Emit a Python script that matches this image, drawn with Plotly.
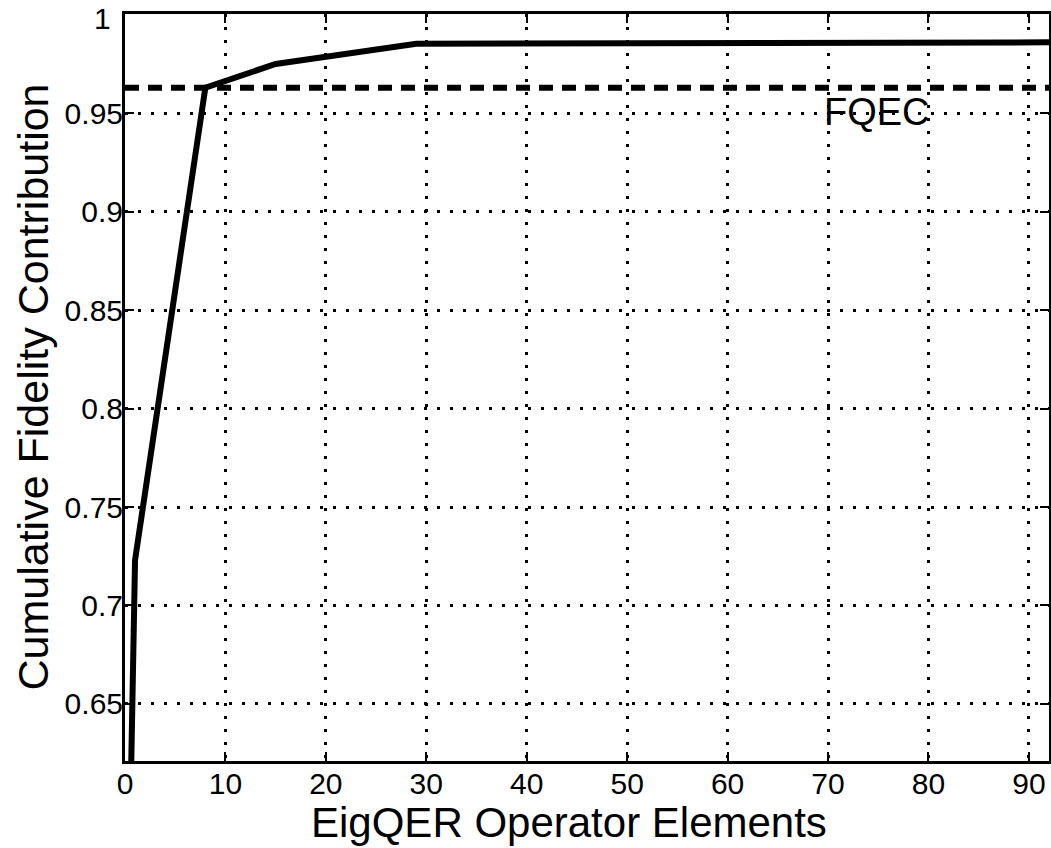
import plotly.graph_objects as go

# Cumulative fidelity contribution vs. number of EigQER operator elements
elements = [0, 1, 8, 15, 29, 92]
cum_fidelity = [0.45, 0.723, 0.963, 0.975, 0.9853, 0.986]

# Fidelity of the full QEC recovery (reference level)
fqec_level = 0.963
fqec_label = "FQEC"
fqec_label_pos = (74.9, 0.9505)

x_ticks = [0, 10, 20, 30, 40, 50, 60, 70, 80, 90]
y_ticks = [0.65, 0.7, 0.75, 0.8, 0.85, 0.9, 0.95, 1.0]
# the top label ("1") is drawn separately so it stays inside the page
y_tick_text = ["0.65", "0.7", "0.75", "0.8", "0.85", "0.9", "0.95", ""]
y_top_label = "1"
x_range = [0, 92]
y_range = [0.621, 1.0004]

x_title = "EigQER Operator Elements"
y_title = "Cumulative Fidelity Contribution"

FONT = "Liberation Sans, Arial, Helvetica, sans-serif"

fig = go.Figure()

fig.add_trace(go.Scatter(
    x=elements, y=cum_fidelity, mode="lines",
    line=dict(color="black", width=6),
    showlegend=False, hoverinfo="skip",
))

fig.add_trace(go.Scatter(
    x=x_range, y=[fqec_level, fqec_level], mode="lines",
    line=dict(color="black", width=6, dash="14px,9px"),
    showlegend=False, hoverinfo="skip",
))

fig.add_annotation(
    x=fqec_label_pos[0], y=fqec_label_pos[1], text=fqec_label,
    showarrow=False, font=dict(family=FONT, size=38, color="black"),
    xanchor="center", yanchor="middle",
)

# Top y tick label
fig.add_annotation(
    x=0, y=1, xref="paper", yref="paper", text=y_top_label,
    showarrow=False, font=dict(family=FONT, size=30, color="black"),
    xanchor="right", yanchor="top", xshift=-12, yshift=14,
)

# Axis titles placed as annotations for tight control of their position
fig.add_annotation(
    x=0.481, y=0, xref="paper", yref="paper", text=x_title,
    showarrow=False, font=dict(family=FONT, size=42, color="black"),
    xanchor="center", yanchor="top", yshift=-36,
)
fig.add_annotation(
    x=0, y=0.5, xref="paper", yref="paper", text=y_title, textangle=-90,
    showarrow=False, font=dict(family=FONT, size=43, color="black"),
    xanchor="right", yanchor="middle", xshift=-67,
)

axis_common = dict(
    showline=True, linecolor="black", linewidth=3, mirror="ticks",
    ticks="inside", ticklen=9, tickwidth=2, tickcolor="black",
    showgrid=True, gridcolor="black", gridwidth=3, griddash="3px,10px",
    zeroline=False,
    tickfont=dict(family=FONT, size=30, color="black"),
)

fig.update_xaxes(range=x_range, tickvals=x_ticks, ticklabelstandoff=-6,
                 **axis_common)
fig.update_yaxes(range=y_range, tickvals=y_ticks, ticktext=y_tick_text,
                 ticklabelstandoff=-7, **axis_common)

fig.update_layout(
    width=1051, height=848,
    margin=dict(l=125, r=2, t=14, b=87, autoexpand=False),
    plot_bgcolor="white", paper_bgcolor="white",
)

fig.write_html("out.html")
